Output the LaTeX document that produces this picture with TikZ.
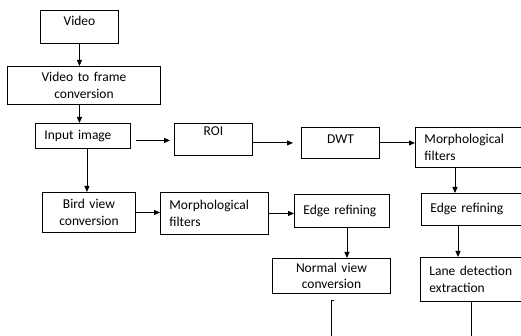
\documentclass[tikz,border=0pt]{standalone}
\usepackage{fontspec}
\setmainfont{Carlito}
\usetikzlibrary{arrows.meta}

\begin{document}
\begin{tikzpicture}[x=1pt,y=-1pt]
\tikzstyle{every node}+=[inner ysep=0pt, inner xsep=9pt, font=\fontsize{13.5}{16.5}\selectfont]
\tikzstyle{blk}=[draw, line width=0.9pt, anchor=north west, align=center]
\tikzstyle{arr}=[line width=0.9pt, -{Triangle[length=6pt,width=5pt]}]
\useasboundingbox (0,0) rectangle (521,336);
\clip (0,0) rectangle (521,336);
\coordinate (bot) at (0,340);
% left column
\node [blk, text width=60pt, text height=15.5pt, text depth=17.5pt] (video) at (40,10) {Video};
\node [blk, text width=135pt, minimum height=38pt] (vtf) at (7,66) {Video to frame\\conversion};
\node [blk, text width=77pt, minimum height=25pt, align=left] (input) at (35,123) {Input image};
\node [blk, text width=75pt, minimum height=40pt] (bird) at (42,192) {Bird view\\conversion};
\node [blk, text width=90pt, minimum height=42pt, align=left] (morph2) at (160,192) {Morphological\\filters};
% middle
\node [blk, text width=60pt, text height=12.5pt, text depth=19.5pt] (roi) at (174,123) {ROI};
\node [blk, text width=60pt, text height=16.5pt, text depth=14.5pt] (dwt) at (301,127) {DWT};
\node [blk, text width=77pt, minimum height=33pt, align=left] (edge1) at (294,194) {Edge refining};
\node [blk, text width=100pt, minimum height=35pt] (normal) at (272,258) {Normal view\\conversion};
% right column (runs past the edge)
\node [blk, text width=112pt, minimum height=40pt, align=left] (morph1) at (415,127) {Morphological\\filters};
\node [blk, text width=112pt, minimum height=32pt, align=left] (edge2) at (421,193) {Edge refining};
\node [blk, text width=112pt, minimum height=44pt, align=left] (lane) at (420,257) {Lane detection\\extraction};
% arrows
\draw [arr] (video.south) -- (video.south |- vtf.north);
\draw [arr] (vtf.south -| video.south) -- (video.south |- input.north);
\draw [arr] ([xshift=4pt]input.south) -- ([xshift=4pt]input.south |- bird.north);
\draw [arr] (bird.east) -- (bird.east -| morph2.west);
\draw [arr] (morph2.east) -- (morph2.east -| edge1.west);
\draw [arr] ([xshift=5pt]edge1.south) -- ([xshift=5pt]edge1.south |- normal.north);
\draw [line width=0.9pt] ([xshift=3pt,yshift=-7pt]normal.south) -- ([yshift=-7pt]normal.south) -- (normal.south |- bot);
\draw [arr, shorten <=5pt, shorten >=4pt] ([yshift=-4.5pt]input.east) -- ([yshift=-4.5pt]input.east -| roi.west);
\draw [arr, shorten >=8pt] (roi.east |- dwt.west) -- (dwt.west);
\draw [arr] (dwt.east) -- (dwt.east -| morph1.west);
\draw [arr] ([xshift=40pt]morph1.south west) -- ([xshift=40pt]morph1.south west |- edge2.north);
\draw [arr] ([xshift=37pt]edge2.south west) -- ([xshift=37pt]edge2.south west |- lane.north);
\draw [line width=0.9pt] ([xshift=51pt]lane.south west) -- ([xshift=51pt]lane.south west |- bot);
\end{tikzpicture}
\end{document}
